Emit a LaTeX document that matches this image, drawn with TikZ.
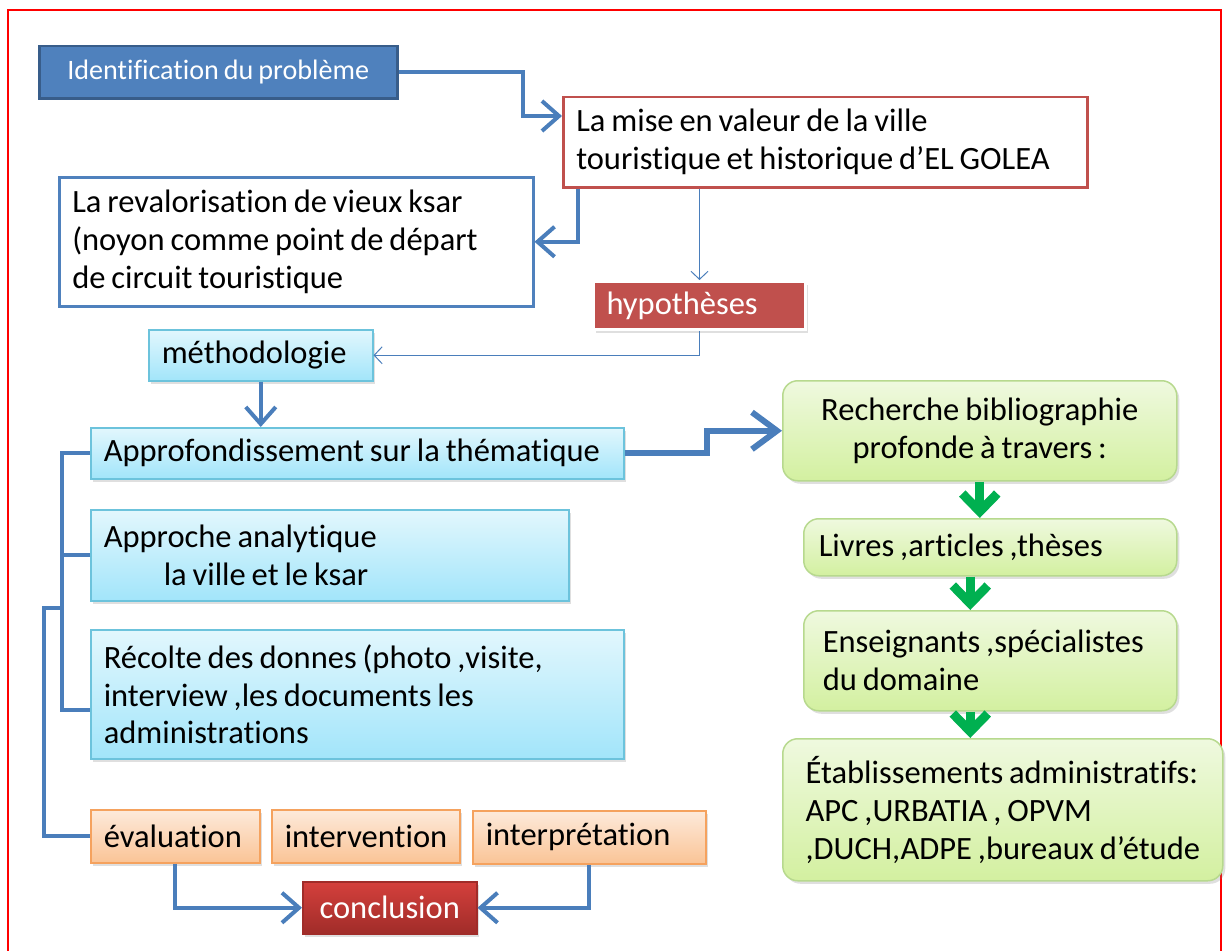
\documentclass[tikz,border=0pt]{standalone}
\usepackage{fontspec}
\setmainfont{Carlito}[WordSpace=0.8,Ligatures=NoCommon]
\usetikzlibrary{arrows.meta}
\usetikzlibrary{calc}
\usetikzlibrary{shadows}
\definecolor{dkblue}{HTML}{4F81BD}
\definecolor{dkblueedge}{HTML}{385D8A}
\definecolor{conblue}{HTML}{4A7EBB}
\definecolor{redline}{HTML}{C0504D}
\definecolor{cyantop}{HTML}{E2F7FD}
\definecolor{cyanbot}{HTML}{A2E5FA}
\definecolor{cyanedge}{HTML}{6CC3DC}
\definecolor{orangetop}{HTML}{FDEADB}
\definecolor{orangebot}{HTML}{FAC496}
\definecolor{orangeedge}{HTML}{F5A25E}
\definecolor{conctop}{HTML}{D4403C}
\definecolor{concbot}{HTML}{A02C29}
\definecolor{greentop}{HTML}{EFF9DF}
\definecolor{greenbot}{HTML}{D3F0A0}
\definecolor{greenedge}{HTML}{B7D98E}
\definecolor{greenarrow}{HTML}{00B050}
\tikzset{
  box/.style={anchor=north west,inner xsep=2.6mm,inner ysep=0pt,align=flush left,
              font=\fontsize{18.5}{21.6}\selectfont},
  softshadow/.style={drop shadow={shadow xshift=0.5mm,shadow yshift=-0.6mm,opacity=0.25}},
  darkbox/.style={box,align=center,fill=dkblue,draw=dkblueedge,line width=0.5mm,text=white,
                  font=\fontsize{16}{20}\selectfont},
  redbox/.style={box,fill=white,draw=redline,line width=0.5mm},
  bluebox/.style={box,fill=white,draw=dkblue,line width=0.5mm},
  hypobox/.style={box,fill=redline,draw=white,line width=0.6mm,text=white,softshadow},
  cyanbox/.style={box,top color=cyantop,bottom color=cyanbot,draw=cyanedge,line width=0.3mm,softshadow},
  orangebox/.style={box,top color=orangetop,bottom color=orangebot,draw=orangeedge,line width=0.3mm,softshadow},
  concbox/.style={box,align=center,top color=conctop,bottom color=concbot,draw=concbot,line width=0.3mm,text=white,softshadow},
  greenbox/.style={box,rounded corners=3mm,top color=greentop,bottom color=greenbot,draw=greenedge,line width=0.3mm,softshadow},
  bluecon/.style={conblue,line width=0.8mm},
  bluearrow/.style={bluecon,-{Straight Barb[length=3.4mm,width=6mm,line width=0.8mm]}},
  thinarrow/.style={conblue,line width=0.2mm,-{Straight Barb[length=1.6mm,width=3.4mm]}},
  greenarr/.style={greenarrow,line width=1.8mm,-{Straight Barb[length=3.6mm,width=7mm,line width=1.8mm]}}
}

\begin{document}
\begin{tikzpicture}[x=0.2mm,y=-0.2mm]
  \useasboundingbox (0,0) rectangle (1227,951);
  % FRAME
  \draw[red,line width=0.3mm] (8,951) -- (8,10) -- (1221,10) -- (1221,951);

  % TOP PART
  \node[darkbox,minimum width=71.6mm,minimum height=10.4mm] (ident) at (38,45) {Identification du problème};
  \node[redbox,text width=99.6mm,minimum height=18mm] (mise) at (562,96)
    {La mise en valeur de la ville\\touristique et historique d’EL GOLEA};
  \node[bluebox,text width=89.6mm,minimum height=25.8mm] (reval) at (58,176)
    {La revalorisation de vieux ksar\\(noyon comme point de départ\\de circuit touristique};
  \node[hypobox,text width=37.2mm,minimum height=9.6mm] (hypo) at (592,280) {hypothèses};

  % LEFT COLUMN
  \node[cyanbox,text width=39.6mm,minimum height=10.2mm] (metho) at (148,329) {méthodologie};
  \node[cyanbox,text width=101.4mm,minimum height=10.2mm] (appro) at (90,427) {Approfondissement sur la thématique};
  \node[cyanbox,text width=90.4mm,minimum height=18.2mm] (approche) at (90,509)
    {Approche analytique\\\hspace*{12mm}la ville et le ksar};
  \node[cyanbox,text width=101.4mm,minimum height=25.8mm] (recolte) at (90,629)
    {Récolte des donnes (photo ,visite,\\interview ,les documents les\\administrations};
  \node[orangebox,text width=28.6mm,minimum height=10.6mm] (eval) at (90,809) {évaluation};
  \node[orangebox,text width=32.4mm,minimum height=10.6mm] (interv) at (271,809) {intervention};
  \node[orangebox,text width=41.4mm,minimum height=10.6mm] (interp) at (472,810) {interprétation};
  \node[concbox,minimum width=34.8mm,minimum height=10.4mm] (concl) at (302,881) {conclusion};

  % RIGHT COLUMN
  \node[greenbox,align=center,minimum width=78.8mm,minimum height=20mm] (rech) at (782,380)
    {Recherche bibliographie\\profonde à travers :};
  \node[greenbox,inner xsep=3mm,text width=68.6mm,minimum height=11.4mm] (livres) at (803,518) {Livres ,articles ,thèses};
  \node[greenbox,inner xsep=3.8mm,text width=67mm,minimum height=20mm] (ensei) at (803,610)
    {Enseignants ,spécialistes\\du domaine};
  \node[greenbox,align=left,minimum width=88mm,minimum height=28.4mm] (etab) at (782,738)
    {Établissements administratifs:\\APC ,URBATIA , OPVM\\,DUCH,ADPE ,bureaux d’étude};

  % CONNECTORS
  \draw[bluearrow] (ident.east) -- ++(124,0) |- ($(mise.north west)+(0,20)$);
  \draw[bluearrow] ($(mise.south west)+(16,0)$) |- (reval.east);
  \draw[thinarrow] (hypo.north |- mise.south) -- (hypo.north);
  \draw[thinarrow] (hypo.south) |- (metho.east);
  \draw[bluearrow] (metho.south) -- (metho.south |- appro.north);
  \draw[bluecon,line width=1.2mm,-{Straight Barb[length=5mm,width=7.4mm,line width=1.2mm]}]
    (appro.east) -- ++(82,0) |- (rech.west);
  \draw[bluecon] (appro.west) -- ++(-28,0) coordinate (bt) |- ($(recolte.west)+(0,16)$);
  \draw[bluecon] (approche.west) -- (approche.west -| bt);
  \draw[bluecon] (eval.west) -- ++(-46,0) |- (bt |- 0,608);
  \draw[bluearrow] (eval.south) |- (concl.west);
  \draw[bluearrow] (interp.south) |- (concl.east);
  \draw[greenarr] (rech.south) -- (rech.south |- livres.north);
  \draw[greenarr] ($(livres.south)+(-20,0)$) -- ($(ensei.north)+(-20,0)$);
  \draw[greenarr] ($(ensei.south)+(-20,0)$) coordinate (g3) -- (g3 |- etab.north);
\end{tikzpicture}
\end{document}
